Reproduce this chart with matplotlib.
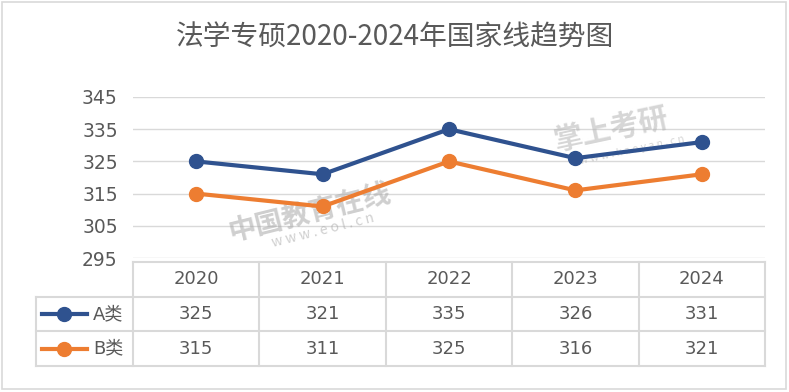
#!/usr/bin/env python3
"""Line chart of national admission lines with an Excel-style data table."""

import matplotlib.pyplot as plt
from matplotlib.lines import Line2D
from matplotlib.patches import Rectangle

plt.rcParams["font.family"] = ["Noto Sans CJK SC", "DejaVu Sans"]

TITLE = "法学专硕2020-2024年国家线趋势图"
years = ["2020", "2021", "2022", "2023", "2024"]
series_names = ["A类", "B类"]
score_a = [325, 321, 335, 326, 331]
score_b = [315, 311, 325, 316, 321]
y_ticks = [295, 305, 315, 325, 335, 345]

COLORS = ["#2F528F", "#ED7D31"]
TEXT = "#595959"
GRID = "#D9D9D9"
NUM_FONT = ["DejaVu Sans", "Noto Sans CJK SC"]

W, H = 789, 392


def fx(px):
    return px / W


def fy(py):
    return 1 - py / H


def main() -> None:
    fig = plt.figure(figsize=(W / 100, H / 100), dpi=100)
    fig.patches.append(Rectangle((fx(2), fy(389)), fx(784), 387 / H, transform=fig.transFigure,
                                 fill=False, edgecolor="#D9D9D9", linewidth=1.2))
    fig.text(0.5, fy(38), TITLE, ha="center", va="center", fontsize=20, color=TEXT)

    left, right, top, base = 133, 765, 97, 258
    ax = fig.add_axes([fx(left), fy(base), fx(right - left), (base - top) / H])
    xs = list(range(len(years)))
    ax.set_xlim(-0.5, len(years) - 0.5)
    ax.set_ylim(y_ticks[0], y_ticks[-1])
    ax.set_yticks(y_ticks)
    ax.set_yticklabels([str(t) for t in y_ticks], fontsize=13.5, color=TEXT, family="DejaVu Sans")
    ax.tick_params(axis="y", length=0, pad=11)
    ax.set_xticks([])
    for s in ax.spines.values():
        s.set_visible(False)
    ax.grid(axis="y", color=GRID, linewidth=1)
    ax.set_axisbelow(True)

    # watermarks
    ax.text(0.9, 309, "中国教育在线", rotation=14, fontsize=20, color="#A8A8A8", alpha=0.55,
            ha="center", va="center", fontweight="bold", clip_on=False)
    ax.text(1.0, 303.5, "w w w . e o l . c n", rotation=14, fontsize=10, color="#A8A8A8",
            alpha=0.55, ha="center", va="center", clip_on=False)
    ax.text(3.28, 335, "掌上考研", rotation=12, fontsize=21, color="#B5B5B5", alpha=0.55,
            ha="center", va="center", fontweight="bold")
    ax.text(3.45, 328.5, "w w w . k a o y a n . c n", rotation=12, fontsize=7.5,
            color="#B5B5B5", alpha=0.55, ha="center", va="center")

    for vals, c in zip([score_a, score_b], COLORS):
        ax.plot(xs, vals, color=c, linewidth=3, marker="o", markersize=10, clip_on=False, zorder=3)

    # data table
    t_top, t_bot = 262, 366
    tab = fig.add_axes([fx(left), fy(t_bot), fx(right - left), (t_bot - t_top) / H])
    tab.set_xlim(-0.5, len(years) - 0.5)
    tab.set_ylim(3, 0)
    tab.axis("off")
    col_w = (right - left) / len(years)
    x_leg = -0.5 - (left - 36) / col_w
    lk = dict(color=GRID, linewidth=1.5, clip_on=False)
    for i in range(len(years) + 1):
        tab.plot([i - 0.5, i - 0.5], [0, 3], **lk)
    tab.plot([x_leg, x_leg], [1, 3], **lk)
    tab.plot([-0.5, len(years) - 0.5], [0, 0], **lk)
    for r in (1, 2, 3):
        tab.plot([x_leg, len(years) - 0.5], [r, r], **lk)

    for i, y in enumerate(years):
        tab.text(i, 0.5, y, ha="center", va="center", fontsize=13, color=TEXT, family=NUM_FONT)
    for r, (name, vals, c) in enumerate(zip(series_names, [score_a, score_b], COLORS), start=1):
        for i, v in enumerate(vals):
            tab.text(i, r + 0.5, str(v), ha="center", va="center", fontsize=13, color=TEXT,
                     family=NUM_FONT)
        tab.add_line(Line2D([x_leg + 0.05, x_leg + 0.4], [r + 0.5, r + 0.5], color=c,
                            linewidth=3, clip_on=False))
        tab.plot([x_leg + 0.225], [r + 0.5], marker="o", markersize=10, color=c, clip_on=False)
        tab.text(x_leg + 0.45, r + 0.5, name, ha="left", va="center", fontsize=13, color=TEXT,
                 family=NUM_FONT)

    fig.savefig("out.png", dpi=100)


if __name__ == "__main__":
    main()
